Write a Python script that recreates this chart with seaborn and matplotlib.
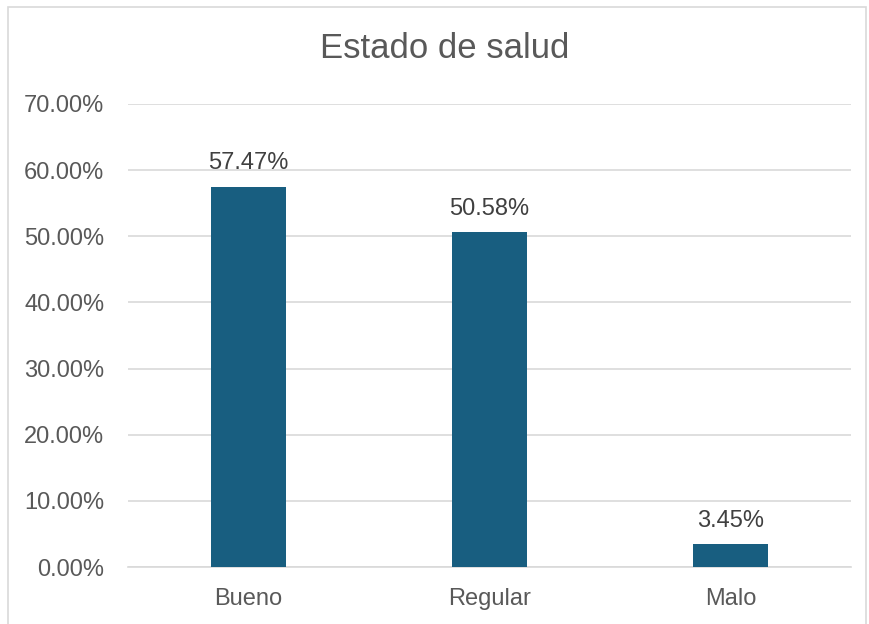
import matplotlib
matplotlib.use("Agg")
import matplotlib.pyplot as plt
import matplotlib.patches as mpatches
from matplotlib.ticker import FuncFormatter
import seaborn as sns
import pandas as pd

categories = ["Bueno", "Regular", "Malo"]
values = [57.47, 50.58, 3.45]

BAR_COLOR = "#185e80"
TEXT_COLOR = "#595959"
LABEL_COLOR = "#404040"
GRID_COLOR = "#d9d9d9"

sns.set_theme(style="white")
plt.rcParams["font.family"] = ["Liberation Sans", "DejaVu Sans"]

df = pd.DataFrame({"estado": categories, "porcentaje": values})

fig = plt.figure(figsize=(8.69, 6.24), dpi=100)
ax = fig.add_axes([128 / 869, 1 - 567 / 624, (851 - 128) / 869, (567 - 104) / 624])

sns.barplot(data=df, x="estado", y="porcentaje", color=BAR_COLOR, width=0.315,
            saturation=1, linewidth=0, ax=ax, zorder=3)

ax.set_ylim(0, 70)
ax.set_xlim(-0.5, 2.5)
ax.set_yticks(range(0, 71, 10))
ax.yaxis.set_major_formatter(FuncFormatter(lambda v, p: f"{v:.2f}%"))
ax.grid(axis="y", color=GRID_COLOR, linewidth=1.2, zorder=0)
for s in ["top", "right", "left"]:
    ax.spines[s].set_visible(False)
ax.spines["bottom"].set_color(GRID_COLOR)
ax.spines["bottom"].set_linewidth(1.2)
ax.tick_params(axis="y", length=0, pad=17, labelsize=17, labelcolor=TEXT_COLOR)
ax.tick_params(axis="x", length=0, pad=15, labelsize=17, labelcolor=TEXT_COLOR)
ax.set_xlabel("")
ax.set_ylabel("")

ax.bar_label(ax.containers[0], labels=[f"{v:.2f}%" for v in values],
             padding=9, fontsize=17, color=LABEL_COLOR)

fig.text(445 / 869, 1 - 49 / 624, "Estado de salud", ha="center", va="center",
         fontsize=25, color=TEXT_COLOR)

# outer chart border
fig.patches.append(mpatches.Rectangle((8 / 869, -0.05), (866 - 8) / 869, 1.05 - 7 / 624,
                                      transform=fig.transFigure, fill=False,
                                      edgecolor=GRID_COLOR, linewidth=1.2))

fig.savefig("out.png", dpi=100)
